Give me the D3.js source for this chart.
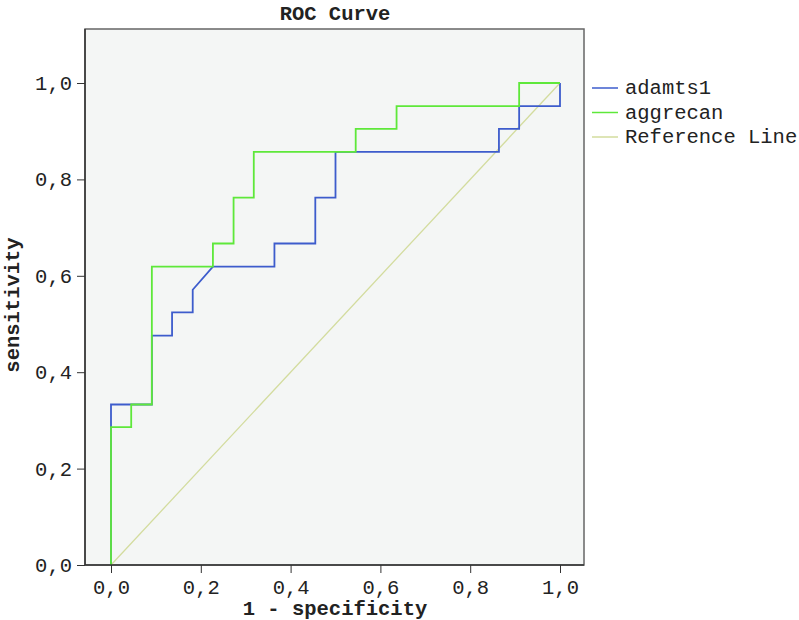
<!DOCTYPE html>
<html lang="en">
<head>
  <meta charset="UTF-8">
  <title>ROC Curve</title>
  <script src="https://d3js.org/d3.v7.min.js"></script>
  <style>
    body { margin: 0; background: #fff; }
    text { font-family: "Liberation Mono", "DejaVu Sans Mono", monospace; fill: #222; }
    .tick line, .domain { stroke: #333; }
  </style>
</head>
<body>
  <svg width="799" height="620"></svg>
  <script>
    // data (1 - specificity, sensitivity)
    const seriesNames = ["adamts1", "aggrecan", "Reference Line"];
    const adamtsX = [0, 0, 0.045, 0.091, 0.091, 0.136, 0.136, 0.182, 0.182, 0.227, 0.364, 0.364, 0.455, 0.455, 0.5, 0.5, 0.864, 0.864, 0.909, 0.909, 1, 1];
    const adamtsY = [0, 0.333, 0.333, 0.333, 0.476, 0.476, 0.524, 0.524, 0.571, 0.619, 0.619, 0.667, 0.667, 0.762, 0.762, 0.857, 0.857, 0.905, 0.905, 0.952, 0.952, 1];
    const aggrecanX = [0, 0, 0.045, 0.045, 0.091, 0.091, 0.227, 0.227, 0.273, 0.273, 0.318, 0.318, 0.545, 0.545, 0.636, 0.636, 0.909, 0.909, 1];
    const aggrecanY = [0, 0.286, 0.286, 0.333, 0.333, 0.619, 0.619, 0.667, 0.667, 0.762, 0.762, 0.857, 0.857, 0.905, 0.905, 0.952, 0.952, 1, 1];
    const refX = [0, 1];
    const refY = [0, 1];
    const tickValues = [0, 0.2, 0.4, 0.6, 0.8, 1.0];
    const colors = ["#3d5ccc", "#5ee83a", "#d3dc9e"];

    const svg = d3.select("svg");
    const frame = { left: 85, top: 29, right: 584, bottom: 565 };

    const x = d3.scaleLinear().domain([0, 1]).range([111, 560]);
    const y = d3.scaleLinear().domain([0, 1]).range([565, 83]);
    const fmt = d => d3.format(".1f")(d).replace(".", ",");

    svg.append("rect")
       .attr("x", frame.left).attr("y", frame.top)
       .attr("width", frame.right - frame.left)
       .attr("height", frame.bottom - frame.top)
       .attr("fill", "#f4f6f5")
       .attr("stroke", "#666")
       .attr("stroke-width", 1.5);

    svg.append("text")
       .attr("x", 335).attr("y", 20)
       .attr("text-anchor", "middle")
       .attr("font-size", 20.5).attr("font-weight", "bold")
       .text("ROC Curve");

    const line = d3.line().x(d => x(d[0])).y(d => y(d[1]));
    const series = [
      d3.zip(adamtsX, adamtsY),
      d3.zip(aggrecanX, aggrecanY),
      d3.zip(refX, refY)
    ];

    // reference line first, then curves on top
    [2, 0, 1].forEach(i => {
      svg.append("path")
         .datum(series[i])
         .attr("d", line)
         .attr("fill", "none")
         .attr("stroke", colors[i])
         .attr("stroke-width", i === 2 ? 1.3 : 1.8);
    });

    const xAxis = svg.append("g")
       .attr("transform", `translate(0,${frame.bottom})`)
       .call(d3.axisBottom(x).tickValues(tickValues).tickFormat(fmt).tickSize(8).tickPadding(6).tickSizeOuter(0));
    xAxis.select(".domain").remove();
    xAxis.selectAll("text").attr("font-size", 20.5).style("font-family", "Liberation Mono");

    const yAxis = svg.append("g")
       .attr("transform", `translate(${frame.left},0)`)
       .call(d3.axisLeft(y).tickValues(tickValues).tickFormat(fmt).tickSize(8).tickPadding(5).tickSizeOuter(0));
    yAxis.select(".domain").remove();
    yAxis.selectAll("text").attr("font-size", 20.5).style("font-family", "Liberation Mono");

    // left and bottom frame edges darker
    svg.append("line").attr("x1", frame.left).attr("x2", frame.left)
       .attr("y1", frame.top).attr("y2", frame.bottom).attr("stroke", "#333").attr("stroke-width", 1.5);
    svg.append("line").attr("x1", frame.left).attr("x2", frame.right)
       .attr("y1", frame.bottom).attr("y2", frame.bottom).attr("stroke", "#333").attr("stroke-width", 1.5);

    svg.append("text")
       .attr("x", 335).attr("y", 615)
       .attr("text-anchor", "middle")
       .attr("font-size", 20.5).attr("font-weight", "bold")
       .text("1 - specificity");

    svg.append("text")
       .attr("transform", `translate(19,${(frame.top + frame.bottom) / 2 + 8}) rotate(-90)`)
       .attr("text-anchor", "middle")
       .attr("font-size", 20.5).attr("font-weight", "bold")
       .text("sensitivity");

    // legend
    const legend = svg.append("g").attr("transform", "translate(592,88)");
    seriesNames.forEach((name, i) => {
      const g = legend.append("g").attr("transform", `translate(0,${i * 24.5})`);
      g.append("line").attr("x1", 0).attr("x2", 26).attr("y1", 0).attr("y2", 0)
       .attr("stroke", colors[i]).attr("stroke-width", 1.5);
      g.append("text").attr("x", 33).attr("y", 6)
       .attr("font-size", 20.5).text(name);
    });
  </script>
</body>
</html>
